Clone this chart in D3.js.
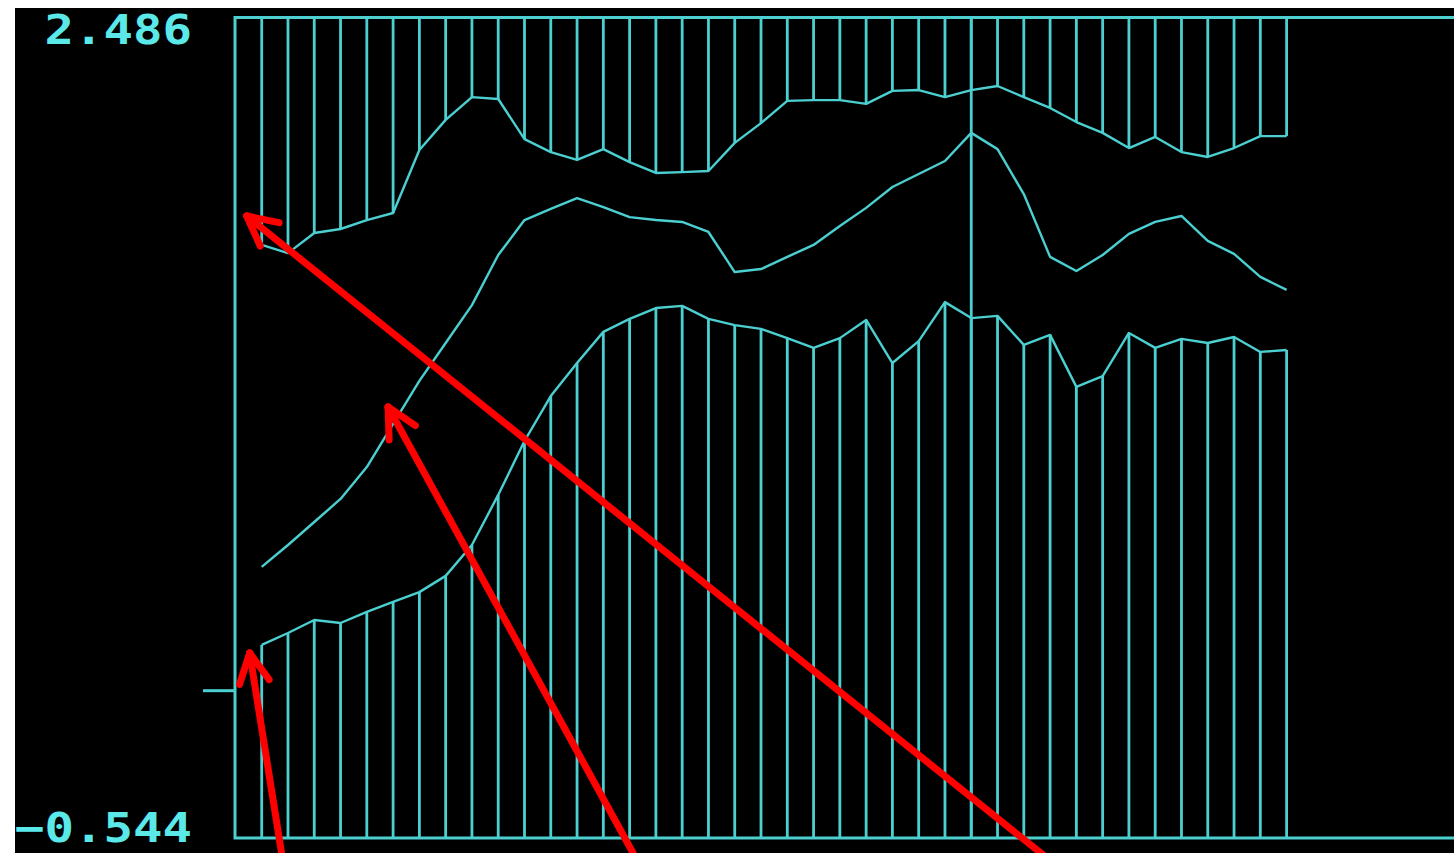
<!DOCTYPE html>
<html>
<head>
<meta charset="utf-8">
<script src="https://cdn.jsdelivr.net/npm/d3@7"></script>
<style>
html, body { margin: 0; padding: 0; background: #fff; overflow: hidden; }
</style>
</head>
<body>
<script>
var width = 1454, height = 853;

// three traces, one value per sample
var upper = [1.646,1.616,1.690,1.705,1.738,1.764,1.997,2.108,2.192,2.185,
             2.037,1.989,1.960,2.000,1.952,1.912,1.915,1.919,2.023,2.096,
             2.178,2.181,2.181,2.167,2.215,2.218,2.192,2.218,2.233,2.192,
             2.152,2.100,2.060,2.004,2.045,1.989,1.971,2.004,2.048,2.048];
var middle = [0.457,0.538,0.623,0.708,0.826,0.985,1.144,1.284,1.424,1.609,
              1.738,1.779,1.819,1.786,1.749,1.738,1.731,1.694,1.546,1.557,
              1.602,1.646,1.716,1.783,1.860,1.908,1.956,2.060,2.000,1.834,
              1.602,1.550,1.609,1.687,1.731,1.753,1.661,1.613,1.528,1.480];
var lower = [0.169,0.213,0.261,0.250,0.291,0.328,0.364,0.424,0.538,0.723,
             0.922,1.088,1.210,1.325,1.373,1.413,1.421,1.373,1.350,1.336,
             1.302,1.266,1.302,1.369,1.210,1.291,1.435,1.376,1.384,1.277,
             1.314,1.122,1.162,1.321,1.266,1.299,1.284,1.306,1.251,1.258];
var samples = d3.range(upper.length);
var yRange = [-0.544, 2.486];   // tick labels at the two ends
var zeroTick = [0];
var cursorIndex = 27;

var cyan = "#4ccfd0";
var textCyan = "#5ae8e8";

var plotLeft = 235;

var svg = d3.select("body")
  .append("svg")
  .attr("width", width)
  .attr("height", height);

svg.append("rect")
  .attr("x", 15)
  .attr("y", 8)
  .attr("width", width - 15)
  .attr("height", height - 8)
  .attr("fill", "#000");

// soft phosphor-ish glow
var glow = svg.append("defs").append("filter")
  .attr("id", "glow")
  .attr("x", "-5%").attr("y", "-5%")
  .attr("width", "110%").attr("height", "110%");
glow.append("feGaussianBlur").attr("stdDeviation", 0.6);

var plot = svg.append("g").attr("filter", "url(#glow)");

var xScale = d3.scaleLinear()
  .domain([0, samples.length - 1])
  .range([261.7, 1286.6]);

var yScale = d3.scaleLinear()
  .domain(yRange)
  .range([838, 17.5]);

var yTop = yScale(yRange[1]), yBottom = yScale(yRange[0]);

// hanging bars from the top down to the upper trace
plot.selectAll(".upperBar")
  .data(upper)
  .enter()
  .append("line")
  .attr("class", "upperBar")
  .attr("x1", function(d, i) { return xScale(i) })
  .attr("x2", function(d, i) { return xScale(i) })
  .attr("y1", yTop)
  .attr("y2", function(d) { return yScale(d) })
  .attr("stroke", cyan)
  .attr("stroke-width", 2.8);

// standing bars from the bottom up to the lower trace
plot.selectAll(".lowerBar")
  .data(lower)
  .enter()
  .append("line")
  .attr("class", "lowerBar")
  .attr("x1", function(d, i) { return xScale(i) })
  .attr("x2", function(d, i) { return xScale(i) })
  .attr("y1", yBottom)
  .attr("y2", function(d) { return yScale(d) })
  .attr("stroke", cyan)
  .attr("stroke-width", 2.8);

// cursor
plot.append("line")
  .attr("x1", xScale(cursorIndex))
  .attr("x2", xScale(cursorIndex))
  .attr("y1", yTop)
  .attr("y2", yBottom)
  .attr("stroke", cyan)
  .attr("stroke-width", 2.8);

var line = d3.line()
  .x(function(d, i) { return xScale(i) })
  .y(function(d) { return yScale(d) });

[upper, middle, lower].forEach(function(series) {
  plot.append("path")
    .attr("d", line(series))
    .attr("fill", "none")
    .attr("stroke", cyan)
    .attr("stroke-width", 2.4)
    .attr("stroke-linejoin", "round");
});

// frame (open on the right)
plot.append("path")
  .attr("d", "M" + width + "," + yTop + "H" + plotLeft + "V" + yBottom + "H" + width)
  .attr("fill", "none")
  .attr("stroke", cyan)
  .attr("stroke-width", 3);

plot.selectAll(".zeroTick")
  .data(zeroTick)
  .enter()
  .append("line")
  .attr("class", "zeroTick")
  .attr("x1", plotLeft - 32)
  .attr("x2", plotLeft)
  .attr("y1", function(d) { return yScale(d) })
  .attr("y2", function(d) { return yScale(d) })
  .attr("stroke", cyan)
  .attr("stroke-width", 3);

var fmt = d3.format(".3f");
var labels = [
  { v: yRange[1], base: yTop + 26 },
  { v: yRange[0], base: yBottom + 4 }
];
svg.selectAll(".yLabel")
  .data(labels)
  .enter()
  .append("text")
  .attr("class", "yLabel")
  .attr("x", 192)
  .attr("y", function(d) { return d.base })
  .attr("text-anchor", "end")
  .attr("font-family", "DejaVu Sans Mono, monospace")
  .attr("font-weight", "bold")
  .attr("font-size", 41)
  .attr("fill", textCyan)
  .attr("textLength", function(d) { return fmt(d.v).length * 29.5 })
  .attr("lengthAdjust", "spacingAndGlyphs")
  .text(function(d) { return fmt(d.v) });

// red annotation arrows pointing at the start of each trace
var arrows = [
  { series: upper,  index: 0, dx: -15, dy: -29, tail: [1052, 862] },
  { series: middle, index: 5, dx: -5,  dy: -17, tail: [638, 862] },
  { series: lower,  index: 0, dx: -12, dy: 8,   tail: [283, 862] }
];

arrows.forEach(function(a) {
  var tx = xScale(a.index) + a.dx, ty = yScale(a.series[a.index]) + a.dy;
  var ang = Math.atan2(a.tail[1] - ty, a.tail[0] - tx);
  var armLen = 33, spread = 27 * Math.PI / 180;
  var g = svg.append("g")
    .attr("stroke", "#ff0000")
    .attr("stroke-width", 7)
    .attr("fill", "none");
  g.append("line")
    .attr("x1", a.tail[0]).attr("y1", a.tail[1])
    .attr("x2", tx).attr("y2", ty)
    .attr("stroke-linecap", "round");
  [-spread, spread].forEach(function(s) {
    g.append("line")
      .attr("x1", tx).attr("y1", ty)
      .attr("x2", tx + armLen * Math.cos(ang + s))
      .attr("y2", ty + armLen * Math.sin(ang + s))
      .attr("stroke-linecap", "round");
  });
});
</script>
</body>
</html>
